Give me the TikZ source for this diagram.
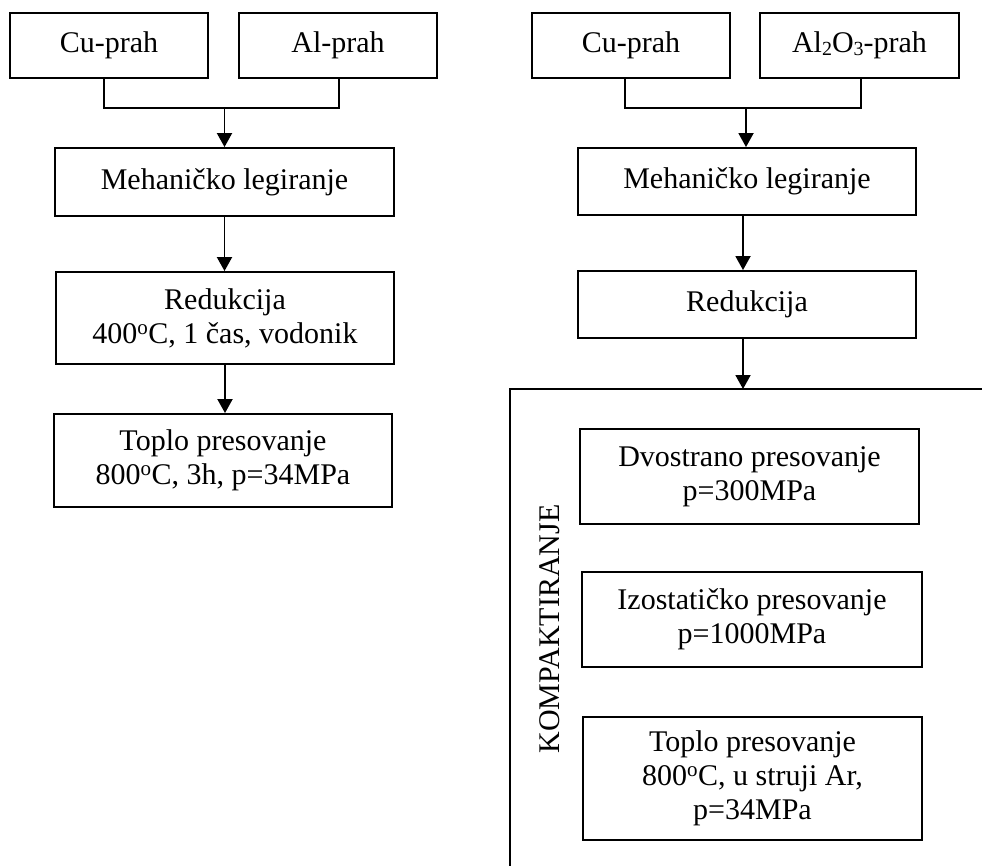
\documentclass[tikz,border=0pt]{standalone}
\usepackage{fontspec}
\setmainfont{Liberation Serif}
\usetikzlibrary{arrows.meta}
\newcommand{\lowdigit}[1]{\raisebox{-3pt}{\fontsize{20}{20}\selectfont #1}}
\begin{document}
\begin{tikzpicture}[x=1pt,y=-1pt,
  box/.style={draw, line width=1.9pt, inner sep=0pt, align=center,
              font=\fontsize{30}{34}\selectfont},
  link/.style={line width=1.9pt},
  flow/.style={link, -{Triangle[width=15pt,length=14pt]}},
  label/.style={font=\fontsize{30}{34}\selectfont}]
\useasboundingbox (0,0) rectangle (982,865);

% ---- left process: Cu + Al ----
\node[box, minimum width=198pt, minimum height=65pt] (cuL) at (109,45.5) {Cu-prah};
\node[box, minimum width=198pt, minimum height=65pt] (alL) at (338,45.5) {Al-prah};
\node[box, minimum width=339pt, minimum height=68pt] (mehL) at (224.5,182) {Mehaničko legiranje};
\node[box, minimum width=338pt, minimum height=92pt] (redL) at (225,318)
  {Redukcija\\400\textsuperscript{o}C, 1 čas, vodonik};
\node[box, minimum width=338pt, minimum height=93pt] (topL) at (223,460.5)
  {Toplo presovanje\\800\textsuperscript{o}C, 3h, p=34MPa};

\coordinate (jL) at (224.5,108);
\draw[link] ([xshift=-5pt]cuL.south) |- ([xshift=1pt]alL.south |- jL) -- ([xshift=1pt]alL.south);
\draw[flow] (jL) -- (mehL.north);
\draw[flow] (mehL.south) -- (mehL.south |- redL.north);
\draw[flow] (redL.south) -- (redL.south |- topL.north);

% ---- right process: Cu + Al2O3 ----
\node[box, minimum width=198pt, minimum height=65pt] (cuR) at (631,45.5) {Cu-prah};
\node[box, minimum width=199pt, minimum height=65pt] (alR) at (859.5,45.5)
  {Al\lowdigit{2}O\lowdigit{3}-prah};
\node[box, minimum width=338pt, minimum height=67pt] (mehR) at (747,181.5) {Mehaničko legiranje};
\node[box, minimum width=338pt, minimum height=67pt] (redR) at (747,304.5) {Redukcija};

\coordinate (jR) at (746,108);
\draw[link] ([xshift=-6pt]cuR.south) |- ([xshift=1.5pt]alR.south |- jR) -- ([xshift=1.5pt]alR.south);
\draw[flow] (jR) -- (jR |- mehR.north);
\draw[flow] ([xshift=-4pt]mehR.south) -- ([xshift=-4pt]redR.north);

% compaction frame (open to the right and below)
\coordinate (kc) at (510,389);
\coordinate (kr) at (990,389);
\coordinate (kb) at (510,870);
\draw[link] (kr) -- (kc) -- (kb);
\draw[flow] ([xshift=-4pt]redR.south) -- ([xshift=-4pt]redR.south |- kc);

\node[label, rotate=90, anchor=base] (kLabel) at (559,629) {KOMPAKTIRANJE};

\node[box, minimum width=339pt, minimum height=95pt] (dvo) at (749.5,476.5)
  {Dvostrano presovanje\\p=300MPa};
\node[box, minimum width=340pt, minimum height=95pt] (izo) at (752,619.5)
  {Izostatičko presovanje\\p=1000MPa};
\node[box, minimum width=339pt, minimum height=123pt] (topR) at (752.5,778.5)
  {Toplo presovanje\\800\textsuperscript{o}C, u struji Ar,\\p=34MPa};
\end{tikzpicture}
\end{document}
